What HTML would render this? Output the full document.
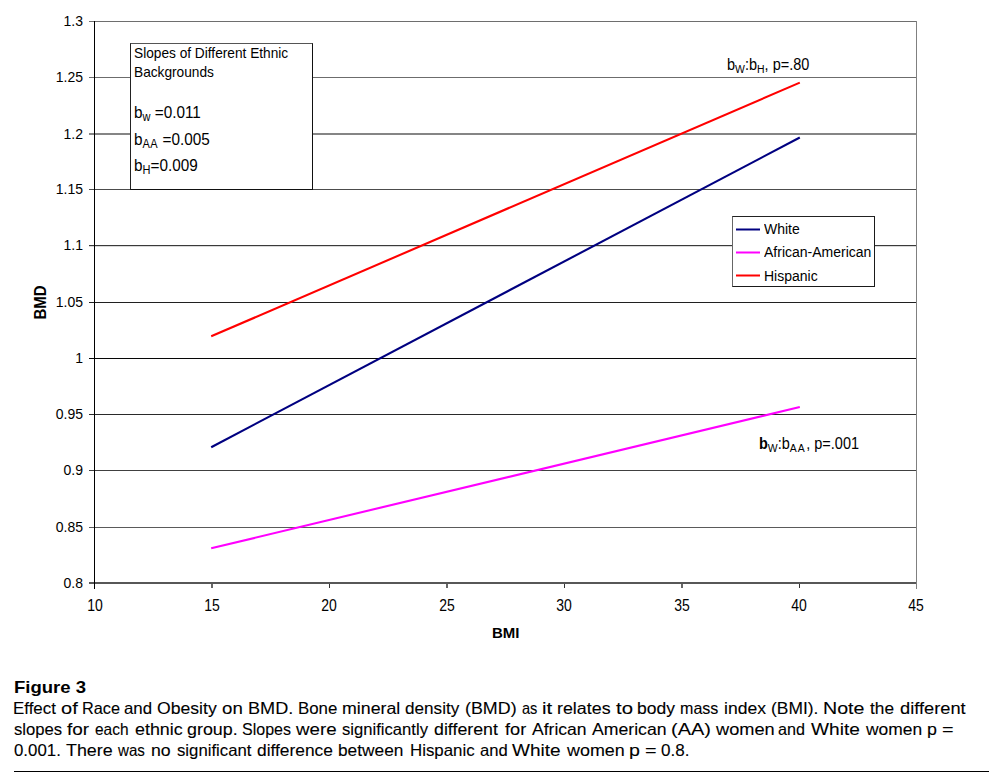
<!DOCTYPE html>
<html><head><meta charset="utf-8">
<style>
html,body{margin:0;padding:0;background:#fff;width:1002px;height:783px;overflow:hidden;position:relative;font-family:"Liberation Sans",sans-serif;color:#000}
.t{position:absolute;white-space:nowrap;line-height:1;transform:scaleY(1.12);transform-origin:0 0}
.yl{position:absolute;right:919px;font-size:14px;line-height:1;white-space:nowrap;transform:scaleY(1.1);transform-origin:0 50%}
.xl{position:absolute;top:599px;font-size:14px;line-height:1;width:60px;text-align:center;white-space:nowrap;transform:scaleY(1.16);transform-origin:50% 85%}
svg{position:absolute;left:0;top:0}
sub{font-size:72%;vertical-align:baseline;position:relative;top:0.22em}
.w{position:absolute;white-space:nowrap;font-size:16.5px;line-height:1;transform-origin:0 0;-webkit-text-stroke:0.1px #000}
.cap{position:absolute;left:14px;font-family:"Liberation Sans",sans-serif;white-space:nowrap;transform-origin:0 0}
</style></head><body>
<svg width="1002" height="783" viewBox="0 0 1002 783" shape-rendering="crispEdges">
  <!-- gridlines incl. left ticks -->
  <rect x="89" y="21" width="828" height="1" fill="#6e6e6e"/>
  <rect x="89" y="77" width="828" height="1" fill="#6c6c6c"/>
  <rect x="89" y="133" width="828" height="2" fill="#858585"/>
  <rect x="89" y="189" width="828" height="1" fill="#4c4c4c"/>
  <rect x="89" y="245" width="828" height="1" fill="#3a3a3a"/>
  <rect x="89" y="246" width="828" height="1" fill="#d8d8d8"/>
  <rect x="89" y="302" width="828" height="1" fill="#202020"/>
  <rect x="89" y="358" width="828" height="1" fill="#060606"/>
  <rect x="89" y="414" width="828" height="1" fill="#2a2a2a"/>
  <rect x="89" y="470" width="828" height="1" fill="#404040"/>
  <rect x="89" y="527" width="828" height="1" fill="#5a5a5a"/>
  <rect x="89" y="582" width="828" height="2" fill="#575757"/>
  <!-- axes -->
  <rect x="94" y="21" width="1" height="568" fill="#000"/>
  <rect x="916" y="21" width="1" height="568" fill="#808080"/>
  <!-- x ticks -->
  <rect x="211" y="584" width="2" height="4" fill="#666"/>
  <rect x="329" y="584" width="1" height="4" fill="#333"/>
  <rect x="446" y="584" width="2" height="4" fill="#666"/>
  <rect x="564" y="584" width="1" height="4" fill="#333"/>
  <rect x="681" y="584" width="2" height="4" fill="#666"/>
  <rect x="799" y="584" width="1" height="4" fill="#333"/>
</svg>
<svg width="1002" height="783" viewBox="0 0 1002 783">
  <line x1="211.2" y1="336.3" x2="799.8" y2="82.6" stroke="#ff0000" stroke-width="2.1"/>
  <line x1="211.2" y1="447.2" x2="799.8" y2="137.5" stroke="#000080" stroke-width="2.1"/>
  <line x1="211.2" y1="548.3" x2="799.8" y2="407" stroke="#ff00ff" stroke-width="2.1"/>
</svg>
<!-- y labels -->
<div class="yl" style="top:13px">1.3</div>
<div class="yl" style="top:69px">1.25</div>
<div class="yl" style="top:126px">1.2</div>
<div class="yl" style="top:181px">1.15</div>
<div class="yl" style="top:237px">1.1</div>
<div class="yl" style="top:295px">1.05</div>
<div class="yl" style="top:351px">1</div>
<div class="yl" style="top:407px">0.95</div>
<div class="yl" style="top:463px">0.9</div>
<div class="yl" style="top:520px">0.85</div>
<div class="yl" style="top:576px">0.8</div>
<!-- x labels -->
<div class="xl" style="left:65px">10</div>
<div class="xl" style="left:182px">15</div>
<div class="xl" style="left:299px">20</div>
<div class="xl" style="left:417px">25</div>
<div class="xl" style="left:534px">30</div>
<div class="xl" style="left:652px">35</div>
<div class="xl" style="left:769px">40</div>
<div class="xl" style="left:886px">45</div>
<!-- axis titles -->
<div class="t" style="left:492px;top:625px;font-size:15px;font-weight:bold;transform:none">BMI</div>
<div class="t" style="left:22.5px;top:295px;font-size:15px;font-weight:bold;transform:rotate(-90deg) scaleY(1.1);transform-origin:center">BMD</div>
<!-- slopes box -->
<div style="position:absolute;left:130px;top:43px;width:181px;height:145px;border:1px solid #111;border-top-color:#555;border-left-color:#222;background:#fff"></div>
<div class="t" style="left:134px;top:46px;font-size:13.7px">Slopes of Different Ethnic</div>
<div class="t" style="left:134px;top:65px;font-size:13.7px">Backgrounds</div>
<div class="t" style="left:134px;top:103px;font-size:15.3px">b<sub style="top:.3em">w</sub> =0.011</div>
<div class="t" style="left:134px;top:130px;font-size:15.3px">b<sub style="top:.3em;letter-spacing:.5px">AA</sub> =0.005</div>
<div class="t" style="left:134px;top:156px;font-size:15.3px">b<sub style="top:.3em">H</sub>=0.009</div>
<!-- annotations -->
<div class="t" style="left:727px;top:57px;font-size:14.5px">b<sub style="top:.18em">W</sub>:b<sub style="top:.18em">H</sub>, p=.80</div>
<div class="t" style="left:759px;top:436px;font-size:14.5px"><b>b</b><sub style="top:.18em">W</sub>:b<sub style="top:.18em;letter-spacing:1px;margin-right:.5px">AA</sub>, p=.001</div>
<!-- legend -->
<div style="position:absolute;left:732px;top:216px;width:141px;height:69px;border:1px solid #1a1a1a;border-top-color:#222;border-left-color:#666;background:#fff"></div>
<svg width="1002" height="783" viewBox="0 0 1002 783">
  <line x1="736" y1="229.5" x2="760" y2="229.5" stroke="#000080" stroke-width="2"/>
  <line x1="736" y1="252.5" x2="760" y2="252.5" stroke="#ff00ff" stroke-width="2"/>
  <line x1="736" y1="275.5" x2="760" y2="275.5" stroke="#ff0000" stroke-width="2"/>
</svg>
<div class="t" style="left:764px;top:221px;font-size:14px;transform:scaleY(1.05)">White</div>
<div class="t" style="left:764px;top:244px;font-size:14px;transform:scaleY(1.05)">African-American</div>
<div class="t" style="left:764px;top:267.5px;font-size:14px;transform:scaleY(1.05)">Hispanic</div>
<!-- caption -->
<div class="cap" id="c0" style="transform:scaleX(1.0885);top:678px;font-size:17px;font-weight:bold">Figure 3</div>
<span class="w" style="left:13.07px;top:700px;transform:scaleX(1.0247)">Effect</span>
<span class="w" style="left:61.45px;top:700px;transform:scaleX(1.2137)">of</span>
<span class="w" style="left:81.72px;top:700px;transform:scaleX(0.9863)">Race</span>
<span class="w" style="left:123.89px;top:700px;transform:scaleX(1.0194)">and</span>
<span class="w" style="left:156.75px;top:700px;transform:scaleX(1.0672)">Obesity</span>
<span class="w" style="left:222.21px;top:700px;transform:scaleX(1.1325)">on</span>
<span class="w" style="left:247.57px;top:700px;transform:scaleX(1.0987)">BMD.</span>
<span class="w" style="left:297.97px;top:700px;transform:scaleX(1.0219)">Bone</span>
<span class="w" style="left:341.92px;top:700px;transform:scaleX(1.0771)">mineral</span>
<span class="w" style="left:405.47px;top:700px;transform:scaleX(1.0388)">density</span>
<span class="w" style="left:464.92px;top:700px;transform:scaleX(1.0832)">(BMD)</span>
<span class="w" style="left:522.08px;top:700px;transform:scaleX(0.8827)">as</span>
<span class="w" style="left:542.04px;top:700px;transform:scaleX(1.2394)">it</span>
<span class="w" style="left:557.41px;top:700px;transform:scaleX(1.0814)">relates</span>
<span class="w" style="left:615.75px;top:700px;transform:scaleX(1.2326)">to</span>
<span class="w" style="left:637.13px;top:700px;transform:scaleX(1.0607)">body</span>
<span class="w" style="left:680.33px;top:700px;transform:scaleX(0.9735)">mass</span>
<span class="w" style="left:724.23px;top:700px;transform:scaleX(1.0656)">index</span>
<span class="w" style="left:771.35px;top:700px;transform:scaleX(1.0542)">(BMI).</span>
<span class="w" style="left:822.76px;top:700px;transform:scaleX(1.1884)">Note</span>
<span class="w" style="left:869.59px;top:700px;transform:scaleX(1.0452)">the</span>
<span class="w" style="left:899.53px;top:700px;transform:scaleX(1.1060)">different</span>
<span class="w" style="left:13.89px;top:721px;transform:scaleX(1.0107)">slopes</span>
<span class="w" style="left:66.77px;top:721px;transform:scaleX(1.1489)">for</span>
<span class="w" style="left:95.14px;top:721px;transform:scaleX(0.9382)">each</span>
<span class="w" style="left:134.94px;top:721px;transform:scaleX(1.0839)">ethnic</span>
<span class="w" style="left:186.94px;top:721px;transform:scaleX(1.0830)">group.</span>
<span class="w" style="left:242.02px;top:721px;transform:scaleX(0.9715)">Slopes</span>
<span class="w" style="left:296.10px;top:721px;transform:scaleX(1.1339)">were</span>
<span class="w" style="left:341.80px;top:721px;transform:scaleX(1.0083)">significantly</span>
<span class="w" style="left:434.15px;top:721px;transform:scaleX(1.0769)">different</span>
<span class="w" style="left:504.88px;top:721px;transform:scaleX(1.1011)">for</span>
<span class="w" style="left:532.20px;top:721px;transform:scaleX(1.0636)">African</span>
<span class="w" style="left:592.10px;top:721px;transform:scaleX(1.0700)">American</span>
<span class="w" style="left:671.49px;top:721px;transform:scaleX(1.2097)">(AA)</span>
<span class="w" style="left:715.80px;top:721px;transform:scaleX(1.1036)">women</span>
<span class="w" style="left:778.31px;top:721px;transform:scaleX(0.9806)">and</span>
<span class="w" style="left:810.58px;top:721px;transform:scaleX(1.1570)">White</span>
<span class="w" style="left:866.00px;top:721px;transform:scaleX(1.0557)">women</span>
<span class="w" style="left:927.01px;top:721px;transform:scaleX(1.0811)">p</span>
<span class="w" style="left:941.64px;top:721px;transform:scaleX(1.2000)">=</span>
<span class="w" style="left:13.79px;top:742px;transform:scaleX(1.0205)">0.001.</span>
<span class="w" style="left:65.87px;top:742px;transform:scaleX(1.0833)">There</span>
<span class="w" style="left:118.20px;top:742px;transform:scaleX(0.9167)">was</span>
<span class="w" style="left:150.82px;top:742px;transform:scaleX(1.0723)">no</span>
<span class="w" style="left:176.59px;top:742px;transform:scaleX(1.0151)">significant</span>
<span class="w" style="left:256.76px;top:742px;transform:scaleX(1.0523)">difference</span>
<span class="w" style="left:337.95px;top:742px;transform:scaleX(1.0482)">between</span>
<span class="w" style="left:410.17px;top:742px;transform:scaleX(1.0211)">Hispanic</span>
<span class="w" style="left:479.79px;top:742px;transform:scaleX(1.0078)">and</span>
<span class="w" style="left:512.38px;top:742px;transform:scaleX(1.1522)">White</span>
<span class="w" style="left:566.60px;top:742px;transform:scaleX(1.0864)">women</span>
<span class="w" style="left:628.99px;top:742px;transform:scaleX(1.1892)">p</span>
<span class="w" style="left:644.54px;top:742px;transform:scaleX(1.2000)">=</span>
<span class="w" style="left:660.88px;top:742px;transform:scaleX(1.0354)">0.8.</span>
<div style="position:absolute;left:14px;top:771px;width:975px;height:1px;background:#000"></div>
</body></html>
